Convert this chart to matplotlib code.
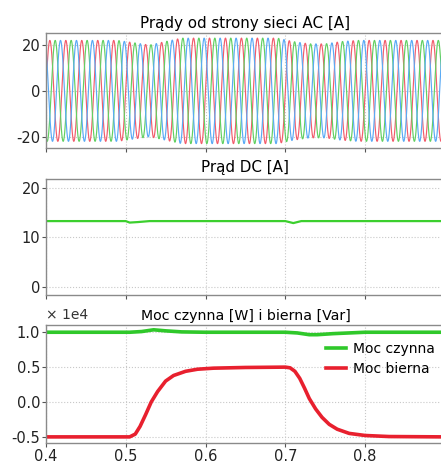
import numpy as np
import matplotlib.pyplot as plt

plt.rcParams["axes.unicode_minus"] = False

# --- data ---
# peak amplitude of the AC phase currents, one value per 20 ms cycle (0.4 .. 0.9 s)
ac_cycle_amp = [22, 22, 22, 22, 22, 21, 20, 21.5, 23, 23, 23, 23, 23, 23, 23,
                21.5, 20.5, 20.5, 21.5, 22, 22, 22, 22, 22, 22]
ac_freq = 50.0

dc_t = [0.40, 0.50, 0.505, 0.515, 0.53, 0.70, 0.71, 0.72, 0.90]
dc_val = [13.3, 13.3, 13.0, 13.1, 13.3, 13.3, 12.9, 13.3, 13.3]

p_t = [0.40, 0.505, 0.52, 0.535, 0.55, 0.57, 0.60, 0.70, 0.715, 0.73, 0.74,
       0.76, 0.78, 0.80, 0.90]
p_val = [1.0e4, 1.0e4, 1.01e4, 1.035e4, 1.02e4, 1.005e4, 1.0e4, 1.0e4, 0.99e4,
         0.965e4, 0.965e4, 0.98e4, 0.99e4, 1.0e4, 1.0e4]

q_t = [0.400, 0.505, 0.512, 0.518, 0.525, 0.532, 0.540, 0.550, 0.560, 0.575,
       0.590, 0.610, 0.650, 0.700, 0.706, 0.712, 0.718, 0.724, 0.730, 0.738,
       0.746, 0.755, 0.765, 0.780, 0.800, 0.830, 0.900]
q_val = [-0.50, -0.50, -0.46, -0.35, -0.18, 0.00, 0.15, 0.30, 0.38, 0.44,
         0.47, 0.485, 0.495, 0.50, 0.49, 0.44, 0.34, 0.20, 0.05, -0.10,
         -0.22, -0.32, -0.39, -0.45, -0.48, -0.495, -0.50]
q_val = [v * 1e4 for v in q_val]

phase_colors = ["#f25c6c", "#62d062", "#5aaaf5"]
grid_kw = dict(color="#c8c8c8", linestyle=":", linewidth=0.8)

fig = plt.figure(figsize=(4.41, 4.66), dpi=100)
left, width = 0.104, 0.905
ax1 = fig.add_axes([left, 0.682, width, 0.247])
ax2 = fig.add_axes([left, 0.367, width, 0.249])
ax3 = fig.add_axes([left, 0.049, width, 0.253])

# AC currents
t = np.linspace(0.4, 0.9, 4000)
centers = 0.41 + 0.02 * np.arange(len(ac_cycle_amp))
amp = np.interp(t, centers, ac_cycle_amp)
for k, c in enumerate(phase_colors):
    ax1.plot(t, amp * np.sin(2 * np.pi * ac_freq * t - k * 2 * np.pi / 3),
             color=c, lw=0.85)
ax1.set_ylim(-25, 25.2)
ax1.set_yticks([-20, 0, 20])
ax1.set_title("Prądy od strony sieci AC [A]", fontsize=10.9, pad=4)

# DC current
ax2.plot(dc_t, dc_val, color="#3ccf2e", lw=1.6)
ax2.set_ylim(-1.6, 21.8)
ax2.set_yticks([0, 10, 20])
ax2.set_title("Prąd DC [A]", fontsize=10.9, pad=5)

# power
ax3.plot(p_t, np.array(p_val) / 1e4, color="#2fc82a", lw=2.6, label="Moc czynna")
ax3.plot(q_t, np.array(q_val) / 1e4, color="#e8202e", lw=2.6, label="Moc bierna")
ax3.set_ylim(-0.59, 1.1)
ax3.set_yticks([-0.5, 0.0, 0.5, 1.0])
ax3.set_yticklabels(["-0.5", "0.0", "0.5", "1.0"])
ax3.set_title("Moc czynna [W] i bierna [Var]", fontsize=10.2, pad=4)
ax3.text(0.0, 1.03, "× 1e4", transform=ax3.transAxes, fontsize=10,
         ha="left", va="bottom", color="#333333")
ax3.legend(loc="upper right", bbox_to_anchor=(0.995, 0.93), frameon=False,
           fontsize=10, handlelength=1.4, handletextpad=0.5,
           labelspacing=0.45, borderaxespad=0.2)

for ax in (ax1, ax2, ax3):
    ax.set_xlim(0.4, 0.9)
    ax.set_xticks([0.4, 0.5, 0.6, 0.7, 0.8])
    ax.grid(True, **grid_kw)
    ax.set_axisbelow(True)
    for s in ax.spines.values():
        s.set_color("#8a8a8a")
        s.set_linewidth(1.0)
    ax.tick_params(colors="#555555", labelcolor="#222222", labelsize=10.5,
                   length=3, width=0.8, pad=1)
ax3.set_xticklabels(["0.4", "0.5", "0.6", "0.7", "0.8"])
for ax in (ax1, ax2):
    ax.tick_params(axis="x", labelbottom=False)

fig.savefig("out.png", dpi=100)
